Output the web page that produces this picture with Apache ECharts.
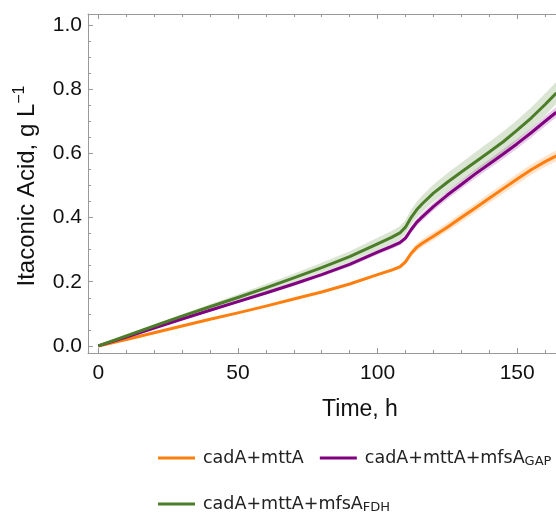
<!DOCTYPE html>
<html><head><meta charset="utf-8">
<script src="https://cdn.jsdelivr.net/npm/echarts@6/dist/echarts.min.js"></script>
<style>html,body{margin:0;padding:0;background:#fff}#c{width:556px;height:512px}</style>
</head><body><div id="c"></div>
<script>
// Time points (h)
const times = [0,10,20,30,40,50,60,70,80,90,100,105,108,110,112,114,116,120,125,130,135,140,145,150,155,160,164];
// Mean itaconic acid (g/L)
const orangeMean = [0,0.020,0.041,0.062,0.083,0.103,0.124,0.146,0.168,0.193,0.222,0.236,0.246,0.262,0.288,0.307,0.320,0.342,0.370,0.400,0.430,0.460,0.490,0.520,0.549,0.574,0.592];
const purpleMean = [0,0.028,0.056,0.084,0.111,0.138,0.165,0.193,0.222,0.254,0.292,0.310,0.322,0.336,0.362,0.385,0.402,0.434,0.470,0.503,0.536,0.567,0.598,0.630,0.664,0.700,0.728];
const greenMean  = [0,0.031,0.062,0.093,0.122,0.151,0.181,0.212,0.244,0.278,0.318,0.338,0.352,0.370,0.400,0.424,0.443,0.476,0.510,0.542,0.573,0.604,0.636,0.672,0.710,0.752,0.788];
// Half-widths of the shaded uncertainty bands
const orangeHW = [0,0.001,0.001,0.002,0.002,0.002,0.003,0.003,0.003,0.004,0.004,0.005,0.006,0.008,0.010,0.011,0.012,0.013,0.013,0.014,0.014,0.015,0.015,0.016,0.016,0.016,0.017];
const purpleHW = [0,0.001,0.002,0.003,0.004,0.005,0.005,0.006,0.006,0.007,0.007,0.008,0.008,0.009,0.010,0.011,0.012,0.012,0.013,0.013,0.014,0.014,0.015,0.015,0.015,0.016,0.016];
const greenHW  = [0,0.002,0.004,0.006,0.008,0.010,0.012,0.013,0.015,0.017,0.019,0.020,0.021,0.022,0.024,0.025,0.026,0.027,0.028,0.029,0.030,0.031,0.032,0.032,0.033,0.034,0.034];
// Tick values
const xMajor = [0,50,100,150];
const xMinor = [10,20,30,40,60,70,80,90,110,120,130,140,160];
const yMajor = [0,0.2,0.4,0.6,0.8,1.0];
const yMinor = [0.05,0.1,0.15,0.25,0.3,0.35,0.45,0.5,0.55,0.65,0.7,0.75,0.85,0.9,0.95];
const seriesNames = ['cadA+mttA','cadA+mttA+mfsA_GAP','cadA+mttA+mfsA_FDH'];

const colors = ['#ff7f0e','#800080','#4c7d29'];
const bandColors = ['rgba(255,127,14,0.22)','rgba(128,0,128,0.2)','rgba(76,125,41,0.2)'];
const means = [orangeMean, purpleMean, greenMean];
const hws = [orangeHW, purpleHW, greenHW];

const XMIN = -3.7, XMAX = 163.9, YMIN = -0.022, YMAX = 1.034;
const frame = '#999999';

function axisX(pos, ticks, len, showLabel, showLine) {
  return {type:'value', position:pos, min:XMIN, max:XMAX, gridIndex:0,
    axisLine:{show:showLine, onZero:false, lineStyle:{color:frame, width:1}},
    axisTick:{show:true, inside:true, length:len, customValues:ticks, lineStyle:{color:frame}},
    axisLabel:{show:showLabel, customValues:ticks, color:'#111', fontSize:21, fontFamily:'Liberation Sans', margin:10},
    splitLine:{show:false}};
}
function axisY(pos, ticks, len, showLabel, showLine) {
  return {type:'value', position:pos, min:YMIN, max:YMAX, gridIndex:0,
    axisLine:{show:showLine, onZero:false, lineStyle:{color:frame, width:1}},
    axisTick:{show:true, inside:true, length:len, customValues:ticks, lineStyle:{color:frame}},
    axisLabel:{show:showLabel, customValues:ticks, color:'#111', fontSize:21, fontFamily:'Liberation Sans', margin:6,
      formatter: v => v.toFixed(1)},
    splitLine:{show:false}};
}

const series = [];
for (let k = 0; k < 3; k++) {
  series.push({type:'custom', name:'band'+k, data:[[0, 0]], silent:true, z:1, clip:true,
    renderItem: (params, api) => {
      const up = times.map((t,i) => api.coord([t, means[k][i] + hws[k][i]]));
      const lo = times.map((t,i) => api.coord([t, means[k][i] - hws[k][i]])).reverse();
      return {type:'polygon', shape:{points: up.concat(lo)}, style:{fill:bandColors[k]}};
    }});
}
for (let k = 0; k < 3; k++) {
  series.push({type:'line', name:seriesNames[k], data:times.map((t,i)=>[t, means[k][i]]),
    symbol:'none', smooth:false, lineStyle:{color:colors[k], width:3, join:'round'}, itemStyle:{color:colors[k]}, z:3});
}

const legendText = {fontFamily:'DejaVu Sans', fontSize:17.5, color:'#222', padding:[0,0,0,3],
  rich:{m:{fontFamily:'DejaVu Sans', fontSize:17.5, color:'#222', lineHeight:22},
        s:{fontFamily:'DejaVu Sans', fontSize:13, color:'#222', lineHeight:13, verticalAlign:'bottom', padding:[0,0,1,0]}}};
const legendFmt = n => { const p = n.split('_'); return '{m|'+p[0]+'}' + (p[1] ? '{s|'+p[1]+'}' : ''); };

const chart = echarts.init(document.getElementById('c'), null, {renderer:'canvas'});
chart.setOption({
  animation:false,
  backgroundColor:'#fff',
  grid:{left:88, right:0, top:14, bottom:159, containLabel:false},
  xAxis:[axisX('bottom', xMajor, 5, true, true), axisX('bottom', xMinor, 3, false, false),
         axisX('top', xMajor, 5, false, true), axisX('top', xMinor, 3, false, false)],
  yAxis:[axisY('left', yMajor, 5, true, true), axisY('left', yMinor, 3, false, false)],
  legend:[
    {data:seriesNames.slice(0,2), orient:'horizontal', left:153, top:444, width:403, itemGap:16, itemWidth:37, itemHeight:3, icon:'rect',
     textStyle:legendText, formatter:legendFmt},
    {data:seriesNames.slice(2), orient:'horizontal', left:153, top:490, width:403, itemGap:16, itemWidth:37, itemHeight:3, icon:'rect',
     textStyle:legendText, formatter:legendFmt}
  ],
  graphic:[
    {type:'text', x:360, y:410, style:{text:'Time, h', fontFamily:'Liberation Sans', fontSize:23, fill:'#111', textAlign:'center', textVerticalAlign:'middle'}},
    {type:'text', x:27, y:186, rotation:Math.PI/2, style:{text:'{m|Itaconic Acid, g L}{p|−1}', textAlign:'center', textVerticalAlign:'middle',
      rich:{m:{fontFamily:'Liberation Sans', fontSize:24, fill:'#111', lineHeight:30},
            p:{fontFamily:'Liberation Sans', fontSize:16, fill:'#111', lineHeight:16, verticalAlign:'top'}}}}
  ],
  series: series
});
</script></body></html>
